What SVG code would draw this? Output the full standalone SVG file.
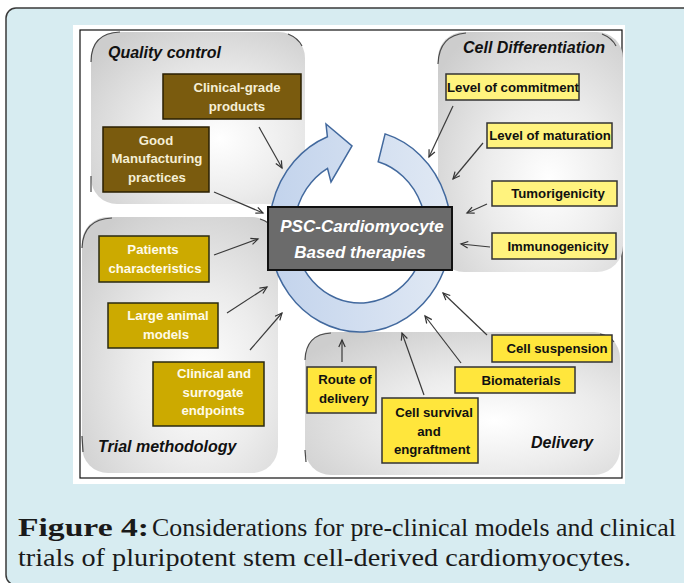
<svg xmlns="http://www.w3.org/2000/svg" width="684" height="583" viewBox="0 0 684 583">
  <defs>
    <radialGradient id="panelGrad" cx="0.6" cy="0.62" r="0.75">
      <stop offset="0" stop-color="#ffffff"/>
      <stop offset="0.45" stop-color="#ececec"/>
      <stop offset="1" stop-color="#cdcdcd"/>
    </radialGradient>
    <linearGradient id="ringGrad" x1="0" y1="0" x2="1" y2="0">
      <stop offset="0" stop-color="#c2d3ec"/>
      <stop offset="1" stop-color="#e1e9f4"/>
    </linearGradient>
    <marker id="ah" markerWidth="10" markerHeight="10" refX="8" refY="4" orient="auto" markerUnits="userSpaceOnUse">
      <path d="M1,0.8 L8,4 L1,7.2" fill="none" stroke="#333" stroke-width="1.2"/>
    </marker>
  </defs>
  <style>
    .panel { fill: url(#panelGrad); }
    .corner { fill: none; stroke: #4a4a4a; stroke-width: 1.2; }
    .title { font-family: "Liberation Sans", Arial, sans-serif; font-weight: bold; font-style: italic; font-size: 16px; fill: #111; }
    .lbl { font-family: "Liberation Sans", Arial, sans-serif; font-weight: bold; font-size: 13.2px; text-anchor: middle; }
    .brown rect { fill: #7a5b0e; stroke: #2a1f02; stroke-width: 1.5; }
    .brown text { fill: #f5efd6; }
    .gold rect { fill: #ccaa00; stroke: #2a2a10; stroke-width: 1.5; }
    .gold text { fill: #fffbe8; }
    .pale rect { fill: #fff37e; stroke: #333; stroke-width: 1.5; }
    .pale text { fill: #111; }
    .yellow rect { fill: #ffe63c; stroke: #333; stroke-width: 1.5; }
    .yellow text { fill: #111; }
    #connectors line { stroke: #3a3a3a; stroke-width: 1.2; marker-end: url(#ah); }
    .cap { font-family: "Liberation Serif", "Times New Roman", serif; font-size: 26px; fill: #1a1a1a; }
  </style>

  <!-- page background panel -->
  <rect x="6" y="8" width="720" height="577" rx="10" fill="#d7ecf1" stroke="#3a3a3a" stroke-width="1.5"/>
  <rect x="73" y="25" width="552" height="459" fill="#ffffff"/>
  <rect x="80" y="30" width="542" height="448" fill="#ffffff" stroke="#111" stroke-width="1.2"/>

  <!-- grouped background panels -->
  <g id="panel-quality">
    <rect class="panel" x="91" y="32" width="214" height="172" rx="26"/>
    <path class="corner" d="M91,62 Q91,33 120,32"/>
    <path class="corner" d="M91,176 L91,192"/>
    <path class="corner" d="M288,34 Q298,38 302,46"/>
    <text class="title" x="108" y="58">Quality control</text>
  </g>
  <g id="panel-trial">
    <rect class="panel" x="82" y="217" width="196" height="256" rx="26"/>
    <path class="corner" d="M82,248 Q83,219 112,218"/>
    <path class="corner" d="M82,436 L83,452"/>
    <path class="corner" d="M260,219 Q270,222 274,230"/>
    <text class="title" x="98" y="452">Trial methodology</text>
  </g>
  <g id="panel-differentiation">
    <rect class="panel" x="438" y="32" width="185" height="240" rx="26"/>
    <path class="corner" d="M438,64 Q439,35 466,33"/>
    <path class="corner" d="M602,34 Q612,38 616,46"/>
    <text class="title" x="463" y="53">Cell Differentiation</text>
  </g>
  <g id="panel-delivery">
    <rect class="panel" x="305" y="332" width="315" height="143" rx="26"/>
    <path class="corner" d="M305,360 Q306,334 331,333"/>
    <path class="corner" d="M305,450 L306,462"/>
    <path class="corner" d="M600,334 Q610,336 614,342"/>
    <text class="title" x="531" y="448">Delivery</text>
  </g>

  <!-- circular arrow around the central node -->
  <path id="cycle-arrow" d="M385.1,133.9 A91,101 0 1 1 327.4,136.7 L326,124 L352,146 L331,182 L327.5,168.3 A66,72 0 1 0 378.2,161.8 Z" fill="url(#ringGrad)" stroke="#42699e" stroke-width="1.5" stroke-linejoin="miter"/>

  <!-- central node -->
  <g id="node-center">
    <rect x="268" y="207" width="184" height="63" fill="#6b6b6b" stroke="#111" stroke-width="2"/>
    <text x="362" y="232" font-family="Liberation Sans, Arial, sans-serif" font-weight="bold" font-style="italic" font-size="17" fill="#ffffff" text-anchor="middle">PSC-Cardiomyocyte</text>
    <text x="360" y="258" font-family="Liberation Sans, Arial, sans-serif" font-weight="bold" font-style="italic" font-size="17" fill="#ffffff" text-anchor="middle">Based therapies</text>
  </g>

  <!-- connectors -->
  <g id="connectors">
    <line x1="259" y1="127" x2="282" y2="168"/>
    <line x1="214" y1="192" x2="263" y2="213"/>
    <line x1="453" y1="106" x2="429" y2="157"/>
    <line x1="483" y1="143" x2="453" y2="179"/>
    <line x1="487" y1="204" x2="467" y2="213"/>
    <line x1="490" y1="247" x2="461" y2="244"/>
    <line x1="214" y1="255" x2="258" y2="239"/>
    <line x1="227" y1="313" x2="267" y2="287"/>
    <line x1="250" y1="350" x2="282" y2="313"/>
    <line x1="342" y1="362" x2="342" y2="340"/>
    <line x1="424" y1="395" x2="402" y2="333"/>
    <line x1="461" y1="363" x2="425" y2="316"/>
    <line x1="487" y1="335" x2="443" y2="293"/>
  </g>

  <!-- quality control nodes -->
  <g id="node-clinical-grade" class="brown">
    <rect x="163" y="74" width="138" height="45"/>
    <text class="lbl" x="237" y="92">Clinical-grade</text>
    <text class="lbl" x="237" y="111">products</text>
  </g>
  <g id="node-gmp" class="brown">
    <rect x="103" y="127" width="106" height="65"/>
    <text class="lbl" x="156" y="145">Good</text>
    <text class="lbl" x="157" y="163">Manufacturing</text>
    <text class="lbl" x="157" y="182">practices</text>
  </g>

  <!-- trial methodology nodes -->
  <g id="node-patients" class="gold">
    <rect x="99" y="236" width="110" height="46"/>
    <text class="lbl" x="153" y="254">Patients</text>
    <text class="lbl" x="155" y="273">characteristics</text>
  </g>
  <g id="node-large-animal" class="gold">
    <rect x="108" y="303" width="110" height="45"/>
    <text class="lbl" x="168" y="320">Large animal</text>
    <text class="lbl" x="166" y="339">models</text>
  </g>
  <g id="node-endpoints" class="gold">
    <rect x="153" y="362" width="111" height="64"/>
    <text class="lbl" x="214" y="378">Clinical and</text>
    <text class="lbl" x="213" y="397">surrogate</text>
    <text class="lbl" x="213" y="415">endpoints</text>
  </g>

  <!-- cell differentiation nodes -->
  <g id="node-commitment" class="pale">
    <rect x="446" y="74" width="133" height="26"/>
    <text class="lbl" x="513" y="92">Level of commitment</text>
  </g>
  <g id="node-maturation" class="pale">
    <rect x="487" y="123" width="125" height="25"/>
    <text class="lbl" x="550" y="140">Level of maturation</text>
  </g>
  <g id="node-tumorigenicity" class="pale">
    <rect x="492" y="181" width="125" height="25"/>
    <text class="lbl" x="558" y="198">Tumorigenicity</text>
  </g>
  <g id="node-immunogenicity" class="pale">
    <rect x="492" y="233" width="124" height="26"/>
    <text class="lbl" x="558" y="251">Immunogenicity</text>
  </g>

  <!-- delivery nodes -->
  <g id="node-cell-suspension" class="yellow">
    <rect x="492" y="335" width="120" height="27"/>
    <text class="lbl" x="557" y="353">Cell suspension</text>
  </g>
  <g id="node-biomaterials" class="yellow">
    <rect x="455" y="367" width="120" height="26"/>
    <text class="lbl" x="521" y="385">Biomaterials</text>
  </g>
  <g id="node-route" class="yellow">
    <rect x="307" y="367" width="69" height="46"/>
    <text class="lbl" x="345" y="384">Route of</text>
    <text class="lbl" x="344" y="403">delivery</text>
  </g>
  <g id="node-survival" class="yellow">
    <rect x="382" y="398" width="96" height="65"/>
    <text class="lbl" x="434" y="417">Cell survival</text>
    <text class="lbl" x="429" y="436">and</text>
    <text class="lbl" x="432" y="454">engraftment</text>
  </g>

  <!-- caption -->
  <g id="caption">
    <text class="cap" x="18" y="536" font-weight="bold" textLength="131" lengthAdjust="spacingAndGlyphs">Figure 4:</text>
    <text class="cap" x="152" y="536" textLength="524" lengthAdjust="spacingAndGlyphs">Considerations for pre-clinical models and clinical</text>
    <text class="cap" x="18" y="566" textLength="613" lengthAdjust="spacingAndGlyphs">trials of pluripotent stem cell-derived cardiomyocytes.</text>
  </g>
</svg>
